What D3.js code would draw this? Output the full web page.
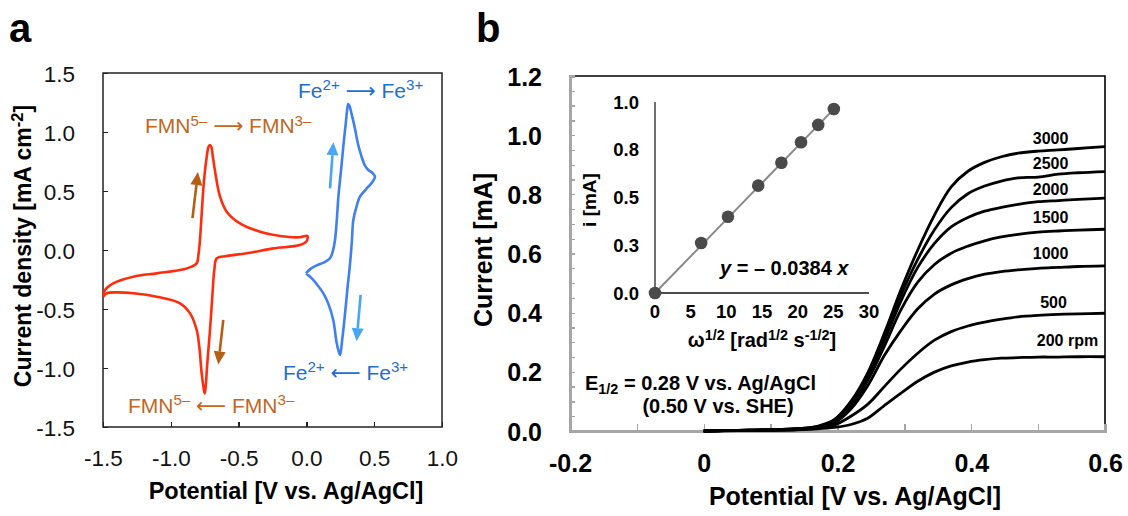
<!DOCTYPE html>
<html lang="en">
<head>
<meta charset="UTF-8">
<title>CV and RDE of FMN / Fe</title>
<script src="https://d3js.org/d3.v7.min.js"></script>
<style>
    body { margin: 0; background: #fff; }
    svg { display: block; font-family: "Liberation Sans", Arial, "DejaVu Sans", sans-serif; }
    text { white-space: pre; }
    .axis path, .axis line { shape-rendering: crispEdges; }
</style>
</head>
<body>
<svg id="chart" width="1128" height="516"></svg>
<script>
// ---- panel a: cyclic voltammograms [E (V vs Ag/AgCl), j (mA cm-2)]
const fmnCV = [
    [-1.498, -0.396], [-1.485, -0.339], [-1.424, -0.282], [-1.277, -0.226], [-1.104, -0.198],
    [-0.932, -0.170], [-0.846, -0.141], [-0.809, -0.113], [-0.795, -0.03], [-0.785, 0.085],
    [-0.772, 0.311], [-0.755, 0.593], [-0.735, 0.791], [-0.722, 0.875], [-0.712, 0.89],
    [-0.700, 0.87], [-0.691, 0.80], [-0.667, 0.62], [-0.637, 0.452], [-0.588, 0.325],
    [-0.490, 0.226], [-0.342, 0.155], [-0.195, 0.119], [-0.047, 0.108], [0.007, 0.119],
    [0.002, 0.075], [-0.047, 0.042], [-0.244, 0.014], [-0.416, -0.023], [-0.588, -0.051],
    [-0.661, -0.07], [-0.679, -0.169], [-0.694, -0.396], [-0.711, -0.678], [-0.731, -0.96],
    [-0.743, -1.16], [-0.750, -1.215], [-0.758, -1.17], [-0.772, -1.05], [-0.790, -0.819],
    [-0.809, -0.678], [-0.858, -0.537], [-0.932, -0.452], [-1.104, -0.396], [-1.277, -0.367],
    [-1.400, -0.359], [-1.473, -0.367], [-1.498, -0.396]
];
const feCV = [
    [-0.003, -0.198], [0.03, -0.16], [0.076, -0.13], [0.13, -0.105], [0.174, -0.07],
    [0.195, -0.01], [0.211, 0.085], [0.225, 0.27], [0.236, 0.452], [0.255, 0.67],
    [0.272, 0.875], [0.29, 1.07], [0.302, 1.2], [0.309, 1.237], [0.318, 1.22],
    [0.338, 1.13], [0.358, 1.03], [0.38, 0.9], [0.407, 0.791], [0.43, 0.72],
    [0.457, 0.678], [0.485, 0.655], [0.506, 0.621], [0.485, 0.575], [0.457, 0.537],
    [0.425, 0.495], [0.395, 0.452], [0.37, 0.37], [0.346, 0.254], [0.335, 0.07],
    [0.322, -0.113], [0.305, -0.3], [0.285, -0.537], [0.265, -0.75], [0.248, -0.89],
    [0.238, -0.86], [0.222, -0.78], [0.198, -0.593], [0.16, -0.45], [0.125, -0.367],
    [0.08, -0.295], [0.04, -0.24], [-0.003, -0.198]
];
// scan-direction arrows: [tail, head]
const fmnArrows = [[[-0.84, 0.27], [-0.80, 0.66]], [[-0.613, -0.593], [-0.65, -0.97]]];
const feArrows = [[[0.174, 0.523], [0.199, 0.914]], [[0.40, -0.381], [0.37, -0.773]]];
const cvXTicks = [-1.5, -1.0, -0.5, 0.0, 0.5, 1.0];
const cvYTicks = [-1.5, -1.0, -0.5, 0.0, 0.5, 1.0, 1.5];

// ---- panel b: RDE linear sweeps
const lsvPotential = [0, 0.05, 0.10, 0.14, 0.17, 0.195, 0.22, 0.245, 0.27, 0.295, 0.32,
                      0.345, 0.37, 0.395, 0.42, 0.445, 0.47, 0.50, 0.53, 0.56, 0.60];
const lsv3000 = [0, 0.002, 0.004, 0.008, 0.016, 0.038, 0.10, 0.196, 0.33, 0.478, 0.612,
                 0.73, 0.825, 0.878, 0.908, 0.927, 0.939, 0.946, 0.95, 0.955, 0.961];
const lsv2500 = [0, 0.002, 0.004, 0.008, 0.015, 0.036, 0.095, 0.19, 0.318, 0.46, 0.58,
                 0.68, 0.755, 0.802, 0.828, 0.845, 0.856, 0.858, 0.868, 0.873, 0.877];
const lsv2000 = [0, 0.002, 0.004, 0.007, 0.014, 0.034, 0.09, 0.183, 0.305, 0.44, 0.553,
                 0.634, 0.69, 0.722, 0.743, 0.756, 0.766, 0.775, 0.779, 0.783, 0.787];
const lsv1500 = [0, 0.002, 0.004, 0.007, 0.013, 0.031, 0.083, 0.17, 0.286, 0.41, 0.503,
                 0.563, 0.601, 0.625, 0.643, 0.656, 0.665, 0.672, 0.676, 0.679, 0.682];
const lsv1000 = [0, 0.002, 0.003, 0.006, 0.012, 0.027, 0.074, 0.152, 0.255, 0.34, 0.413,
                 0.463, 0.494, 0.515, 0.53, 0.539, 0.545, 0.55, 0.553, 0.556, 0.558];
const lsv500 = [0, 0.002, 0.003, 0.005, 0.01, 0.02, 0.05, 0.09, 0.15, 0.21, 0.263,
                0.307, 0.336, 0.355, 0.368, 0.378, 0.386, 0.391, 0.394, 0.396, 0.398];
const lsv200 = [0, 0.001, 0.002, 0.004, 0.007, 0.012, 0.022, 0.043, 0.086, 0.128, 0.168,
                0.199, 0.22, 0.233, 0.241, 0.246, 0.248, 0.25, 0.25, 0.251, 0.251];
const rpmLabels = ["3000", "2500", "2000", "1500", "1000", "500", "200 rpm"];
// label anchor [E, i] for each rpm label
const rpmLabelPos = [[0.492, 0.970], [0.492, 0.886], [0.492, 0.798], [0.492, 0.703],
                     [0.492, 0.581], [0.503, 0.416], [0.498, 0.287]];
const lsvXTicks = [-0.2, 0, 0.2, 0.4, 0.6];
const lsvXMinor = [-0.2, -0.1, 0, 0.1, 0.2, 0.3, 0.4, 0.5, 0.6];
const lsvYTicks = [0, 0.2, 0.4, 0.6, 0.8, 1.0, 1.2];
const lsvYMinor = d3.range(0, 25).map(k => k * 0.05);

// ---- inset: Levich plot
const levichRoot = [0, 6.47, 10.23, 14.47, 17.72, 20.47, 22.88, 25.07];
const levichCurrent = [0, 0.262, 0.399, 0.562, 0.682, 0.789, 0.880, 0.963];
const levichSlope = 0.0384;
const insetXTicks = [0, 5, 10, 15, 20, 25, 30];
const insetYTicks = [0, 0.25, 0.5, 0.75, 1.0];

const svg = d3.select("#chart");

function rich(sel, parts, size) {
    let shift = 0;
    parts.forEach(p => {
        const target = p.sup ? -size * 0.36 : p.sub ? size * 0.18 : 0;
        sel.append("tspan")
            .attr("dy", target - shift)
            .attr("font-size", (p.sup || p.sub) ? size * 0.72 : size)
            .attr("font-style", p.italic ? "italic" : null)
            .text(p.t);
        shift = target;
    });
    return sel;
}

function arrow(g, x, y, a, color) {
    const x1 = x(a[0][0]), y1 = y(a[0][1]), x2 = x(a[1][0]), y2 = y(a[1][1]);
    const ang = Math.atan2(y2 - y1, x2 - x1), hl = 13, hw = 6;
    const bx = x2 - hl * Math.cos(ang), by = y2 - hl * Math.sin(ang);
    g.append("line").attr("x1", x1).attr("y1", y1).attr("x2", bx).attr("y2", by)
        .attr("stroke", color).attr("stroke-width", 2.6);
    g.append("path")
        .attr("d", `M${x2},${y2}L${bx - hw * Math.sin(ang)},${by + hw * Math.cos(ang)}L${bx + hw * Math.sin(ang)},${by - hw * Math.cos(ang)}Z`)
        .attr("fill", color);
}

// ================= panel a =================
const xA = d3.scaleLinear([-1.5, 1.0], [103, 442]);
const yA = d3.scaleLinear([-1.5, 1.5], [427, 73]);
const ga = svg.append("g");

ga.append("text").attr("x", 9).attr("y", 42).attr("font-size", 40).attr("font-weight", "bold").text("a");

const axA = ga.append("g").attr("class", "axis").attr("transform", "translate(0,427)")
    .call(d3.axisBottom(xA).tickValues(cvXTicks).tickSize(-5).tickPadding(23).tickFormat(d => d.toFixed(1)));
const ayA = ga.append("g").attr("class", "axis").attr("transform", "translate(103,0)")
    .call(d3.axisLeft(yA).tickValues(cvYTicks).tickSize(-5).tickPadding(28).tickFormat(d => d.toFixed(1)));
[axA, ayA].forEach(a => {
    a.select(".domain").remove();
    a.selectAll("line").attr("stroke", "#222").attr("stroke-width", 1.3);
    a.selectAll("text").attr("font-size", 22.5).attr("fill", "#111").attr("font-family", null);
});
ayA.selectAll("text").attr("dy", "0.36em");

ga.append("rect").attr("x", xA(-1.5)).attr("y", yA(1.5))
    .attr("width", xA(1.0) - xA(-1.5)).attr("height", yA(-1.5) - yA(1.5))
    .attr("fill", "none").attr("stroke", "#222").attr("stroke-width", 1.5);

const lineA = d3.line().x(d => xA(d[0])).y(d => yA(d[1])).curve(d3.curveCatmullRom.alpha(0.5));
ga.append("path").datum(fmnCV).attr("d", lineA).attr("fill", "none")
    .attr("stroke", "#ff2d0d").attr("stroke-width", 2.6).attr("stroke-linejoin", "round");
ga.append("path").datum(feCV).attr("d", lineA).attr("fill", "none")
    .attr("stroke", "#3f7ff0").attr("stroke-width", 2.6).attr("stroke-linejoin", "round");

fmnArrows.forEach(a => arrow(ga, xA, yA, a, "#b55e14"));
feArrows.forEach(a => arrow(ga, xA, yA, a, "#4ba6f2"));

const cvLabels = [
    { pos: [-1.19, 0.99], color: "#c2671f", parts: [{ t: "FMN" }, { t: "5–", sup: true }, { t: " ⟶ FMN" }, { t: "3–", sup: true }] },
    { pos: [-0.062, 1.29], color: "#1e6fd0", parts: [{ t: "Fe" }, { t: "2+", sup: true }, { t: " ⟶ Fe" }, { t: "3+", sup: true }] },
    { pos: [-0.173, -1.10], color: "#1e6fd0", parts: [{ t: "Fe" }, { t: "2+", sup: true }, { t: " ⟵ Fe" }, { t: "3+", sup: true }] },
    { pos: [-1.316, -1.38], color: "#c2671f", parts: [{ t: "FMN" }, { t: "5–", sup: true }, { t: " ⟵ FMN" }, { t: "3–", sup: true }] }
];
cvLabels.forEach(l => {
    const t = ga.append("text").attr("x", xA(l.pos[0])).attr("y", yA(l.pos[1])).attr("fill", l.color);
    rich(t, l.parts, 21);
});

ga.append("text").attr("x", 286).attr("y", 499).attr("text-anchor", "middle")
    .attr("font-size", 23.5).attr("font-weight", "bold").text("Potential [V vs. Ag/AgCl]");
rich(ga.append("text").attr("transform", "translate(31,246) rotate(-90)").attr("text-anchor", "middle")
    .attr("font-weight", "bold"),
    [{ t: "Current density [mA cm" }, { t: "-2", sup: true }, { t: "]" }], 23);

// ================= panel b =================
const xB = d3.scaleLinear([-0.2, 0.6], [570, 1105]);
const yB = d3.scaleLinear([0, 1.2], [431, 76]);
const gb = svg.append("g");

gb.append("text").attr("x", 476).attr("y", 42).attr("font-size", 40).attr("font-weight", "bold").text("b");

// frame: black top/right, grey axes
gb.append("path").attr("d", `M${xB(-0.2)},${yB(1.2)}H${xB(0.6)}V${yB(0)}`)
    .attr("fill", "none").attr("stroke", "#000").attr("stroke-width", 1.6);

const ayBm = gb.append("g").attr("class", "axis").attr("transform", `translate(${xB(-0.2)},0)`)
    .call(d3.axisLeft(yB).tickValues(lsvYMinor).tickSize(-5).tickFormat(""));
const axBm = gb.append("g").attr("class", "axis").attr("transform", `translate(0,${yB(0)})`)
    .call(d3.axisBottom(xB).tickValues(lsvXMinor).tickSize(-7).tickFormat(""));
[ayBm, axBm].forEach(a => {
    a.select(".domain").attr("stroke", "#a6a6a6").attr("stroke-width", 2.2);
    a.selectAll("line").attr("stroke", "#a6a6a6").attr("stroke-width", 1.3);
});

const ayB = gb.append("g").attr("transform", `translate(${xB(-0.2)},0)`)
    .call(d3.axisLeft(yB).tickValues(lsvYTicks).tickSize(0).tickPadding(28).tickFormat(d => d.toFixed(1)));
const axB = gb.append("g").attr("transform", `translate(0,${yB(0)})`)
    .call(d3.axisBottom(xB).tickValues(lsvXTicks).tickSize(0).tickPadding(23)
        .tickFormat(d => d === 0 ? "0" : d.toFixed(1)));
[ayB, axB].forEach(a => {
    a.select(".domain").remove();
    a.selectAll("text").attr("font-size", 25).attr("font-weight", "bold").attr("fill", "#000").attr("font-family", null);
});
ayB.selectAll("text").attr("dy", "0.36em");

const lsvSeries = [lsv3000, lsv2500, lsv2000, lsv1500, lsv1000, lsv500, lsv200];
const lineB = d3.line().x((d, i) => xB(lsvPotential[i])).y(d => yB(d)).curve(d3.curveCatmullRom.alpha(0.5));
gb.selectAll(".lsv").data(lsvSeries).join("path").attr("class", "lsv")
    .attr("d", lineB).attr("fill", "none").attr("stroke", "#000").attr("stroke-width", 2.8)
    .attr("stroke-linejoin", "round");

gb.selectAll(".rpm").data(rpmLabels).join("text").attr("class", "rpm")
    .attr("x", (d, i) => xB(rpmLabelPos[i][0])).attr("y", (d, i) => yB(rpmLabelPos[i][1]))
    .attr("font-size", 16).attr("font-weight", "bold").text(d => d);

gb.append("text").attr("x", 855).attr("y", 505).attr("text-anchor", "middle")
    .attr("font-size", 25).attr("font-weight", "bold").text("Potential [V vs. Ag/AgCl]");
gb.append("text").attr("transform", "translate(492,250) rotate(-90)").attr("text-anchor", "middle")
    .attr("font-size", 25).attr("font-weight", "bold").text("Current [mA]");

// E1/2 note
rich(gb.append("text").attr("x", 585).attr("y", 390).attr("font-weight", "bold"),
    [{ t: "E" }, { t: "1/2", sub: true }, { t: " = 0.28 V vs. Ag/AgCl" }], 20);
gb.append("text").attr("x", 718).attr("y", 413).attr("text-anchor", "middle")
    .attr("font-size", 20).attr("font-weight", "bold").text("(0.50 V vs. SHE)");

// ================= inset =================
const xI = d3.scaleLinear([0, 30], [655, 869]);
const yI = d3.scaleLinear([0, 1], [293, 102]);
const gi = svg.append("g");

gi.append("line").attr("x1", xI(0)).attr("x2", xI(0)).attr("y1", yI(0)).attr("y2", yI(1))
    .attr("stroke", "#333").attr("stroke-width", 1.4);
gi.append("line").attr("x1", xI(0)).attr("x2", xI(30)).attr("y1", yI(0)).attr("y2", yI(0))
    .attr("stroke", "#111").attr("stroke-width", 1.4);

gi.selectAll(".ixt").data(insetXTicks).join("text").attr("class", "ixt")
    .attr("x", d => xI(d)).attr("y", 318).attr("text-anchor", "middle")
    .attr("font-size", 18.5).attr("font-weight", "bold").text(d => d);
gi.selectAll(".iyt").data(insetYTicks).join("text").attr("class", "iyt")
    .attr("x", 639).attr("y", d => yI(d)).attr("dy", "0.36em").attr("text-anchor", "end")
    .attr("font-size", 18.5).attr("font-weight", "bold").text(d => d.toFixed(1));

gi.append("line")
    .attr("x1", xI(0)).attr("y1", yI(0))
    .attr("x2", xI(levichRoot[levichRoot.length - 1])).attr("y2", yI(levichSlope * levichRoot[levichRoot.length - 1]))
    .attr("stroke", "#8a8a8a").attr("stroke-width", 2);
gi.selectAll(".dot").data(levichRoot).join("circle").attr("class", "dot")
    .attr("cx", d => xI(d)).attr("cy", (d, i) => yI(levichCurrent[i])).attr("r", 6.3)
    .attr("fill", "#4a4a4a");

rich(gi.append("text").attr("x", 762).attr("y", 347).attr("text-anchor", "middle").attr("font-weight", "bold"),
    [{ t: "ω" }, { t: "1/2", sup: true }, { t: " [rad" }, { t: "1/2", sup: true }, { t: " s" }, { t: "-1/2", sup: true }, { t: "]" }], 20);
gi.append("text").attr("transform", "translate(589,200) rotate(-90)").attr("text-anchor", "middle")
    .attr("dy", "0.36em").attr("font-size", 19).attr("font-weight", "bold").text("i [mA]");
rich(gi.append("text").attr("x", 720).attr("y", 275).attr("font-weight", "bold"),
    [{ t: "y", italic: true }, { t: " = – 0.0384 " }, { t: "x", italic: true }], 20);
</script>
</body>
</html>
